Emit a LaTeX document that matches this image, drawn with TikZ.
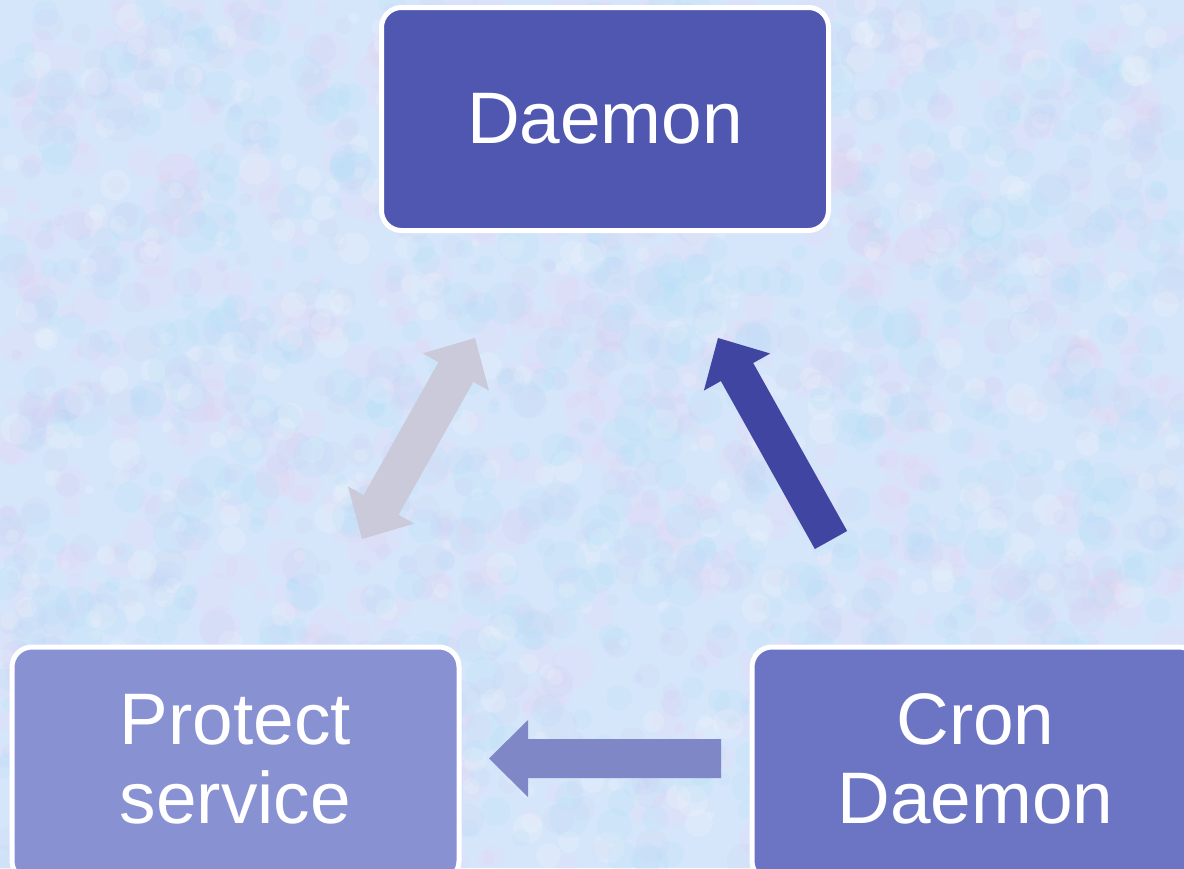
\documentclass[tikz,border=0pt]{standalone}
\usepackage{fontspec}
\setmainfont{Liberation Sans}
\usetikzlibrary{calc}
\definecolor{bgbase}{RGB}{214,230,250}
\definecolor{bgpink}{RGB}{236,204,238}
\definecolor{bgblue}{RGB}{176,224,248}
\definecolor{bglav}{RGB}{200,204,242}
\definecolor{topfill}{RGB}{80,87,176}
\definecolor{protfill}{RGB}{136,145,210}
\definecolor{cronfill}{RGB}{108,117,195}
\definecolor{darkarr}{RGB}{63,69,160}
\definecolor{grayarr}{RGB}{202,202,218}
\definecolor{lilarr}{RGB}{128,135,198}
% single block arrow: #1 tail, #2 tip, #3 style, #4 half body, #5 half head, #6 head length
\newcommand{\blockarr}[6]{%
  \coordinate (ba-h) at ($(#2)!#6!(#1)$);
  \fill[#3] ($(#1)!#4!90:(#2)$) -- ($(ba-h)!#4!90:(#2)$) -- ($(ba-h)!#5!90:(#2)$) -- (#2)
    -- ($(ba-h)!#5!-90:(#2)$) -- ($(ba-h)!#4!-90:(#2)$) -- ($(#1)!#4!-90:(#2)$) -- cycle;}
% double block arrow: #1 tip, #2 tip, ...
\newcommand{\dblarr}[6]{%
  \coordinate (da-1) at ($(#1)!#6!(#2)$);
  \coordinate (da-2) at ($(#2)!#6!(#1)$);
  \fill[#3] (#1) -- ($(da-1)!#5!90:(#2)$) -- ($(da-1)!#4!90:(#2)$) -- ($(da-2)!#4!90:(#2)$)
    -- ($(da-2)!#5!90:(#2)$) -- (#2) -- ($(da-2)!#5!-90:(#2)$) -- ($(da-2)!#4!-90:(#2)$)
    -- ($(da-1)!#4!-90:(#2)$) -- ($(da-1)!#5!-90:(#2)$) -- cycle;}
\begin{document}
\begin{tikzpicture}[x=0.5pt,y=-0.5pt,
  box/.style={draw=white, line width=2.5pt, rounded corners=10pt, text=white,
    font=\fontsize{36.5pt}{39.5pt}\selectfont, align=center,
    minimum width=223.5pt, minimum height=111.5pt, inner sep=0pt},
  lowbox/.style={box, minimum height=117pt, text depth=5pt}]
\useasboundingbox (0,0) rectangle (1184,868);
\fill[bgbase] (0,0) rectangle (1184,868);
\begin{scope}
\clip (0,0) rectangle (1184,868);
\pgfmathsetseed{11}
\foreach \i in {1,...,700}{
  \pgfmathsetmacro{\px}{rnd*1184}
  \pgfmathsetmacro{\py}{rnd*868}
  \pgfmathsetmacro{\rr}{6+rnd*16}
  \fill[bgpink, opacity=0.15] (\px,\py) circle[radius=\rr];
}
\foreach \i in {1,...,700}{
  \pgfmathsetmacro{\px}{rnd*1184}
  \pgfmathsetmacro{\py}{rnd*868}
  \pgfmathsetmacro{\rr}{6+rnd*16}
  \fill[bgblue, opacity=0.2] (\px,\py) circle[radius=\rr];
}
\foreach \i in {1,...,500}{
  \pgfmathsetmacro{\px}{rnd*1184}
  \pgfmathsetmacro{\py}{rnd*868}
  \pgfmathsetmacro{\rr}{5+rnd*14}
  \fill[bglav, opacity=0.14] (\px,\py) circle[radius=\rr];
}
\foreach \i in {1,...,400}{
  \pgfmathsetmacro{\px}{rnd*1184}
  \pgfmathsetmacro{\py}{rnd*868}
  \pgfmathsetmacro{\rr}{4+rnd*12}
  \fill[white, opacity=0.14] (\px,\py) circle[radius=\rr];
}

\node[box, fill=topfill]     (daemon)  at (605,119)   {Daemon};
\node[lowbox, fill=protfill] (protect) at (235.5,764) {Protect\\service};
\node[lowbox, fill=cronfill] (cron)    at (975.5,764) {Cron\\Daemon};

\coordinate (g1) at (475,338);
\coordinate (g2) at (362,539);
\coordinate (d1) at (831,540);
\coordinate (d2) at (718,338);
\coordinate (l1) at (721,758.5);
\coordinate (l2) at (489,758.5);

\dblarr{g1}{g2}{grayarr}{10pt}{19pt}{19.5pt}
\blockarr{d1}{d2}{darkarr}{9.25pt}{19pt}{19.5pt}
\blockarr{l1}{l2}{lilarr}{9.75pt}{19.25pt}{19.5pt}
\end{scope}
\end{tikzpicture}
\end{document}
